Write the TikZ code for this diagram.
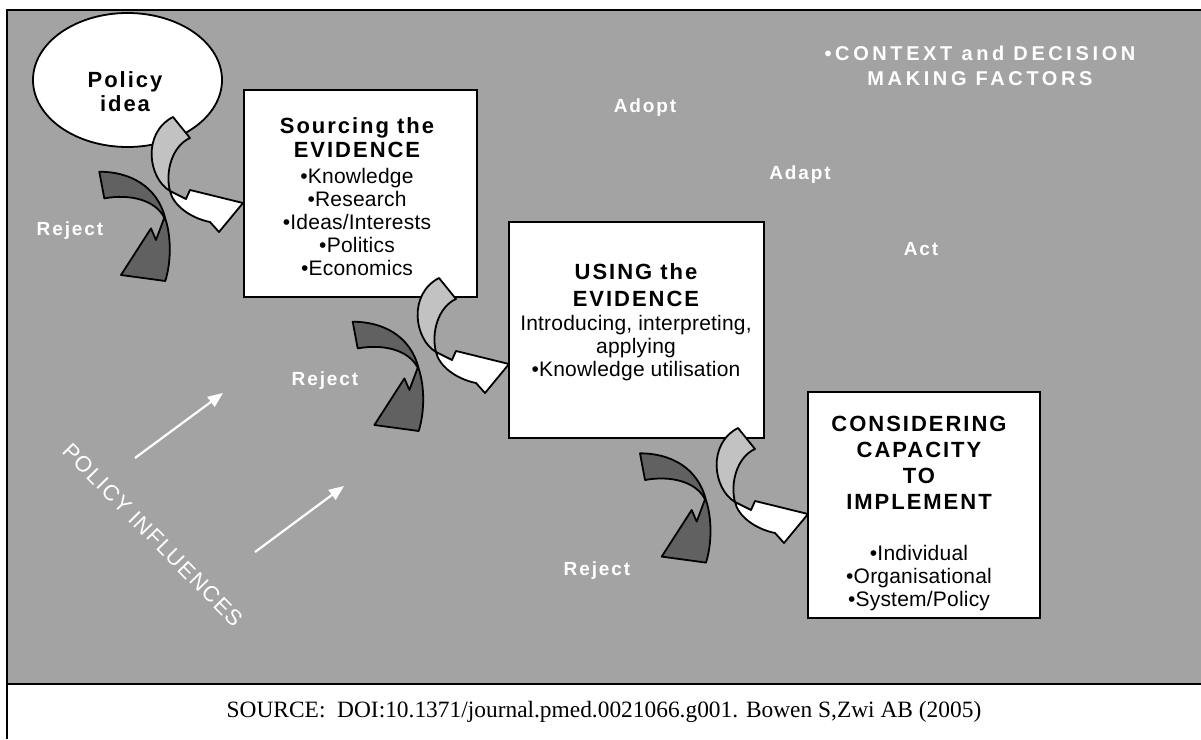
\documentclass[tikz,border=0pt]{standalone}
\usepackage{fontspec}
\setmainfont{Liberation Sans}
\newfontfamily\spacedfont[LetterSpace=9]{Liberation Sans}
\newfontfamily\itemfont[LetterSpace=1]{Liberation Sans}
\newfontfamily\labelfont[LetterSpace=10]{Liberation Sans}
\newfontfamily\contextfont[LetterSpace=18]{Liberation Sans}
\newfontfamily\influencefont[LetterSpace=6]{Liberation Sans}
\newfontfamily\captionfont{Liberation Serif}
\usetikzlibrary{shapes.geometric,arrows.meta}

\definecolor{bggray}{gray}{0.64}
\definecolor{liftgray}{gray}{0.76}
\definecolor{rejectgray}{gray}{0.38}

\tikzset{
  stagebox/.style={draw, fill=white, line width=2.4pt, inner sep=0pt, outer sep=0pt},
  stagetext/.style={align=center, inner sep=0pt, font=\itemfont\fontsize{21}{23}\selectfont},
  whitelabel/.style={text=white, inner sep=0pt, font=\labelfont\bfseries\fontsize{19}{25}\selectfont},
  outline/.style={draw=black, line width=1.8pt, line join=round},
  influence/.style={draw=white, line width=2.2pt, -{Triangle[length=15pt,width=12pt]}}
}
\newcommand{\hd}[1]{{\spacedfont\bfseries\fontsize{22}{26}\selectfont #1}}

\begin{document}
\begin{tikzpicture}[x=1pt,y=-1pt]
  \useasboundingbox (0,0) rectangle (1201,739);
  % background frame
  \fill[bggray] (7,10) rectangle (1201,684);
  \draw[line width=2.5pt] (1201,10) -- (7,10) -- (7,739);
  \draw[line width=2.5pt] (7,684) -- (1201,684);

  % idea and the three stages
  \node[ellipse, draw, fill=white, line width=1.8pt, minimum width=189, minimum height=134, inner sep=0pt] (idea) at (127.5,80) {};
  \node[stagetext] (ideatxt) at (125,92) {\hd{Policy}\\[1pt]\hd{idea}};

  \node[stagebox, minimum width=233, minimum height=207] (source) at (360.5,193.5) {};
  \node[stagetext] (sourcetxt) at (357,196.5) {\hd{Sourcing the}\\[1pt]\hd{EVIDENCE}\\[3pt]
    •Knowledge\\•Research\\•Ideas/Interests\\•Politics\\•Economics};

  \node[stagebox, minimum width=255, minimum height=216] (use) at (636.5,330) {};
  \node[stagetext] (usetxt) at (636,322.5) {\hd{USING the}\\[4pt]\hd{EVIDENCE}\\[1pt]
    Introducing, interpreting,\\applying\\•Knowledge utilisation};

  \node[stagebox, minimum width=232, minimum height=226] (capacity) at (924,505) {};
  \node[stagetext] (capacitytxt) at (919,513) {\hd{CONSIDERING}\\[3pt]\hd{CAPACITY}\\[3pt]\hd{TO}\\[3pt]\hd{IMPLEMENT}\\[28pt]
    •Individual\\•Organisational\\•System/Policy};

  % curved arrows at each step
  \foreach \dx/\dy in {0/0,266/161,565/311}{
    \begin{scope}[shift={(\dx,\dy)}]
      \filldraw[outline, fill=liftgray] (173,117) -- (190,138) .. controls (172,146) and (165,172) .. (170,191)
        .. controls (148,178) and (142,133) .. cycle;
      \filldraw[outline, fill=white] (170,191) .. controls (173,205) and (190,218) .. (210,222) -- (219,232)
        -- (243,203) -- (190,190) -- (186,199) -- cycle;
    \end{scope}
  }
  \foreach \rx/\ry in {99.3/171.7,352.7/321.7,640/453.3}{
    \begin{scope}[shift={(\rx,\ry)}]
      \filldraw[outline, fill=rejectgray] (0,0) .. controls (30,0) and (58,14) .. (66,47)
        .. controls (72,65) and (72,90) .. (66,109.3) -- (21.7,103.3) -- (51.7,56.7) -- (56.7,68.3)
        -- (65,46) .. controls (56,28) and (30,22) .. (5,26.7) -- cycle;
    \end{scope}
  }

  % labels
  \node[whitelabel, align=center, font=\contextfont\bfseries\fontsize{20}{25}\selectfont] (context) at (980,66) {•CONTEXT and DECISION\\MAKING FACTORS};
  \node[whitelabel] (adopt) at (645,108) {Adopt};
  \node[whitelabel] (adapt) at (800,175) {Adapt};
  \node[whitelabel] (act) at (921,249) {Act};
  \node[whitelabel] (reject1) at (70,231) {Reject};
  \node[whitelabel] (reject2) at (325,381) {Reject};
  \node[whitelabel] (reject3) at (597,571) {Reject};

  % policy influences
  \node[text=white, rotate=-45.5, font=\influencefont\fontsize{22}{26}\selectfont] (influences) at (153,535) {POLICY INFLUENCES};
  \coordinate (in1a) at (135,458);
  \coordinate (in1b) at (223,393);
  \coordinate (in2a) at (255,552);
  \coordinate (in2b) at (344,486);
  \draw[influence] (in1a) -- (in1b);
  \draw[influence] (in2a) -- (in2b);

  % source line
  \node[font=\captionfont\fontsize{23.4}{28}\selectfont] (credit) at (604,712) {SOURCE:\ \ DOI:10.1371/journal.pmed.0021066.g001. Bowen S,Zwi AB (2005)};
\end{tikzpicture}
\end{document}
